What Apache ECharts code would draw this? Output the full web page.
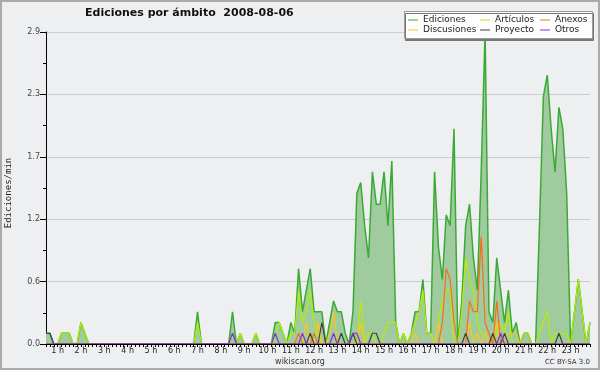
<!DOCTYPE html>
<html><head><meta charset="utf-8">
<script src="https://cdn.jsdelivr.net/npm/echarts@6/dist/echarts.min.js"></script>
<style>html,body{margin:0;padding:0;background:#eeeff1}#c{width:600px;height:370px}</style>
</head><body><div id="c"></div>
<script>
const hourLabels = ['1 h','2 h','3 h','4 h','5 h','6 h','7 h','8 h','9 h','10 h','11 h','12 h',
  '13 h','14 h','15 h','16 h','17 h','18 h','19 h','20 h','21 h','22 h','23 h'];
const yTicks = [0, 0.58, 1.16, 1.74, 2.32, 2.9];

const ediciones = [
 0.1,0.1,0,0,0.1,0.1,0.1,0,0,0.2,
 0.1,0,0,0,0,0,0,0,0,0,
 0,0,0,0,0,0,0,0,0,0,
 0,0,0,0,0,0,0,0,0,0.3,
 0,0,0,0,0,0,0,0,0.3,0,
 0.1,0,0,0,0.1,0,0,0,0,0.2,
 0.2,0.1,0,0.2,0.1,0.7,0.3,0.5,0.7,0.3,
 0.3,0.3,0,0.2,0.4,0.3,0.3,0.1,0,0.3,
 1.4,1.5,1.1,0.8,1.6,1.3,1.3,1.6,1.1,1.7,
 0.2,0,0.1,0,0.1,0.3,0.3,0.6,0.1,0.1,
 1.6,0.9,0.6,1.2,1.1,2.0,0,0.4,1.1,1.3,
 0.8,0.5,1.6,2.9,0.3,0.2,0.8,0.5,0.2,0.5,
 0.1,0.2,0,0.1,0.1,0,0,1.1,2.3,2.5,
 2.0,1.6,2.2,2.0,1.4,0,0.3,0.6,0.3,0,
 0.2];
const articulos = [
 0,0,0,0,0.1,0.1,0.1,0,0,0.2,
 0.1,0,0,0,0,0,0,0,0,0,
 0,0,0,0,0,0,0,0,0,0,
 0,0,0,0,0,0,0,0,0,0.2,
 0,0,0,0,0,0,0,0,0,0,
 0.1,0,0,0,0.1,0,0,0,0,0.1,
 0.2,0.1,0,0.1,0.1,0.5,0.2,0.3,0.5,0.2,
 0.1,0,0,0,0,0,0,0,0,0,
 0,0.4,0,0.1,0.1,0,0,0.1,0.2,0.2,
 0.2,0,0.1,0,0.1,0.2,0.3,0.5,0.1,0.1,
 0,0.2,0.4,0.5,0.5,0,0,0.3,0.8,0.6,
 0.5,0.2,0.1,0.1,0,0,0.1,0.2,0.1,0.3,
 0,0,0,0.1,0.1,0,0,0.1,0.2,0.3,
 0,0.1,0.1,0.1,0.1,0,0.3,0.6,0.3,0,
 0.2];
const discusiones = [
 0,0,0,0,0,0,0,0,0,0,
 0,0,0,0,0,0,0,0,0,0,
 0,0,0,0,0,0,0,0,0,0,
 0,0,0,0,0,0,0,0,0,0,
 0,0,0,0,0,0,0,0,0,0,
 0,0,0,0,0,0,0,0,0,0,
 0,0,0,0,0,0,0,0.2,0,0,
 0.2,0,0,0.1,0.3,0,0,0,0,0,
 0,0.2,0,0,0,0,0,0,0,0,
 0,0,0,0,0,0.1,0,0,0,0,
 0,0.2,0,0,0,0,0,0,0,0.2,
 0,0.1,0,0.1,0,0,0.2,0,0,0.1,
 0.1,0.1,0,0,0,0,0,0,0,0,
 0,0,0,0,0,0,0,0,0,0,
 0];
const anexos = [
 0,0,0,0,0,0,0,0,0,0,
 0,0,0,0,0,0,0,0,0,0,
 0,0,0,0,0,0,0,0,0,0,
 0,0,0,0,0,0,0,0,0,0,
 0,0,0,0,0,0,0,0,0,0,
 0,0,0,0,0,0,0,0,0,0,
 0,0,0,0,0,0.1,0,0,0,0.1,
 0,0,0,0,0,0,0,0,0,0,
 0,0,0,0,0,0,0,0,0,0,
 0,0,0,0,0,0,0,0,0,0,
 0,0,0.2,0.7,0.6,0.2,0,0,0,0.4,
 0.3,0.3,1.0,0.2,0.1,0,0.4,0,0,0,
 0,0,0,0,0,0,0,0,0,0,
 0,0,0,0,0,0,0,0,0,0,
 0];
const proyecto = [
 0.1,0.1,0,0,0,0,0,0,0,0,
 0,0,0,0,0,0,0,0,0,0,
 0,0,0,0,0,0,0,0,0,0,
 0,0,0,0,0,0,0,0,0,0,
 0,0,0,0,0,0,0,0,0,0,
 0,0,0,0,0,0,0,0,0,0,
 0,0,0,0,0,0,0,0,0.1,0,
 0,0.2,0,0,0,0,0.1,0,0,0.1,
 0,0,0,0,0.1,0.1,0,0,0,0,
 0,0,0,0,0,0,0,0,0,0,
 0,0,0,0,0,0,0,0,0.1,0,
 0,0,0,0,0,0.1,0,0,0.1,0,
 0,0,0,0,0,0,0,0,0,0,
 0,0,0.1,0,0,0,0,0,0,0,
 0];
const otros = [
 0,0,0,0,0,0,0,0,0,0,
 0,0,0,0,0,0,0,0,0,0,
 0,0,0,0,0,0,0,0,0,0,
 0,0,0,0,0,0,0,0,0,0,
 0,0,0,0,0,0,0,0,0.1,0,
 0,0,0,0,0,0,0,0,0,0.1,
 0,0,0,0,0,0,0.1,0,0,0,
 0,0,0,0,0.1,0,0,0,0,0.1,
 0.1,0,0,0,0,0,0,0,0,0,
 0,0,0,0,0,0,0,0,0,0,
 0,0,0,0,0,0,0,0,0,0,
 0,0,0,0,0,0,0,0.1,0,0,
 0,0,0,0,0,0,0,0,0,0,
 0,0,0,0,0,0,0,0,0,0,
 0];

// 10-minute bins starting at 00:30
const categories = [];
for (let i = 0; i < ediciones.length; i++) {
  const m = 30 + 10 * i;
  categories.push(String(Math.floor(m / 60)).padStart(2, '0') + ':' + String(m % 60).padStart(2, '0'));
}

const FONT = 'DejaVu Sans';
function lineSeries(name, data, color, width, extra) {
  return Object.assign({
    name: name, type: 'line', data: data, symbol: 'none', showSymbol: false,
    itemStyle: { color: color }, lineStyle: { color: color, width: width },
    emphasis: { disabled: true }, silent: true
  }, extra || {});
}

const chart = echarts.init(document.getElementById('c'), null, { renderer: 'canvas' });
const legendCommon = {
  orient: 'vertical', top: 15, padding: 0, itemGap: 0, itemWidth: 10, itemHeight: 1,
  icon: 'rect', selectedMode: false, z: 60,
  textStyle: { fontFamily: FONT, fontSize: 9, color: '#222', lineHeight: 10 }
};
chart.setOption({
  backgroundColor: '#eeeff1',
  animation: false,
  title: {
    text: 'Ediciones por ámbito  2008-08-06', left: 85, top: 8, padding: 0,
    textStyle: { fontFamily: FONT, fontWeight: 'bold', fontSize: 11, color: '#111' }
  },
  grid: { left: 46, right: 10, top: 32, bottom: 26, containLabel: false },
  xAxis: {
    type: 'category', data: categories, boundaryGap: false, z: 10,
    axisLine: { lineStyle: { color: '#000', width: 1 } },
    axisTick: { interval: 0, length: 3, lineStyle: { color: '#000' } },
    axisLabel: {
      interval: function (i) { return (i + 3) % 6 === 0; },
      formatter: function (v, i) { return hourLabels[(i + 3) / 6 - 1] || ''; },
      margin: 3, fontSize: 8, fontFamily: FONT, color: '#222'
    },
    splitLine: { show: false }
  },
  yAxis: {
    type: 'value', min: yTicks[0], max: yTicks[yTicks.length - 1], interval: yTicks[1],
    axisLine: { show: true, lineStyle: { color: '#000' } },
    axisTick: { show: true, length: 6, lineStyle: { color: '#000' } },
    minorTick: { show: true, splitNumber: 2, length: 3, lineStyle: { color: '#000' } },
    axisLabel: { formatter: function (v) { return v.toFixed(1); }, margin: 6, fontSize: 8, fontFamily: FONT, color: '#444' },
    splitLine: { show: true, lineStyle: { color: '#cccccc', width: 1 } }
  },
  legend: [
    Object.assign({ data: ['Ediciones', 'Discusiones'], left: 408 }, legendCommon),
    Object.assign({ data: ['Artículos', 'Proyecto'], left: 480 }, legendCommon),
    Object.assign({ data: ['Anexos', 'Otros'], left: 540 }, legendCommon)
  ],
  series: [
    lineSeries('Ediciones', ediciones, '#3aaa35', 1.5, { areaStyle: { color: '#9fcb9f', opacity: 1 }, z: 2 }),
    lineSeries('Artículos', articulos, '#b4ee00', 1.2, { z: 3 }),
    lineSeries('Discusiones', discusiones, '#ffc61a', 1.2, { z: 4 }),
    lineSeries('Anexos', anexos, '#ff6a1a', 1.2, { z: 5 }),
    lineSeries('Proyecto', proyecto, '#404040', 1.2, { z: 6 }),
    lineSeries('Otros', otros, '#8a2be2', 1.2, { z: 7 })
  ],
  graphic: [
    { type: 'rect', z: 50, shape: { x: 404.5, y: 11.5, width: 188, height: 27 },
      style: { fill: '#fdfdfd', stroke: '#9a9a9a', lineWidth: 1, shadowColor: '#777', shadowOffsetX: 1, shadowOffsetY: 2, shadowBlur: 0 } },
    { type: 'text', z: 50, x: 9, y: 193, rotation: Math.PI / 2,
      style: { text: 'Ediciones/min', x: 0, y: 0, align: 'center', textAlign: 'center', verticalAlign: 'middle', textVerticalAlign: 'middle',
        font: '9px "DejaVu Sans Mono"', fill: '#222' } },
    { type: 'text', z: 50, x: 300, y: 362,
      style: { text: 'wikiscan.org', x: 0, y: 0, align: 'center', textAlign: 'center', verticalAlign: 'middle', textVerticalAlign: 'middle',
        font: '8px "DejaVu Sans"', fill: '#333' } },
    { type: 'text', z: 50, x: 590, y: 362,
      style: { text: 'CC BY-SA 3.0', x: 0, y: 0, align: 'right', textAlign: 'right', verticalAlign: 'middle', textVerticalAlign: 'middle',
        font: '7px "DejaVu Sans"', fill: '#333' } },
    { type: 'rect', z: 100, silent: true, shape: { x: 1, y: 1, width: 598, height: 368 },
      style: { fill: 'none', stroke: '#aaaaaa', lineWidth: 2 } }
  ]
});
</script></body></html>
